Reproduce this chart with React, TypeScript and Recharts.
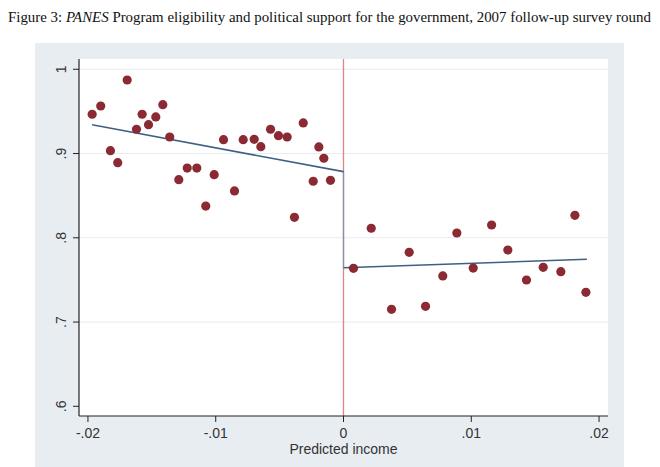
import React from 'react';
import {
  ComposedChart,
  Scatter,
  Line,
  XAxis,
  YAxis,
  CartesianGrid,
  ReferenceLine,
} from 'recharts';

// binned means, left of the cutoff (eligible)
const leftIncome = [
  -0.01967, -0.0190, -0.01824, -0.01767, -0.01693, -0.0162, -0.01576, -0.01526, -0.01469, -0.01414,
  -0.0136, -0.01289, -0.01223, -0.01148, -0.01078, -0.01012, -0.00939, -0.00853, -0.00785, -0.00699,
  -0.00647, -0.00571, -0.00509, -0.00441, -0.00384, -0.00315, -0.00237, -0.00193, -0.00154, -0.00102,
];
const leftSupport = [
  0.9466, 0.9564, 0.9034, 0.8891, 0.9873, 0.9288, 0.9466, 0.9342, 0.9434, 0.958,
  0.9196, 0.869, 0.8828, 0.8828, 0.8377, 0.8749, 0.9164, 0.8556, 0.9164, 0.9169,
  0.9081, 0.9288, 0.9212, 0.9196, 0.8243, 0.9363, 0.8671, 0.9078, 0.8944, 0.8682,
];

// right of the cutoff (ineligible)
const rightIncome = [
  0.00078, 0.00217, 0.00376, 0.00514, 0.00642, 0.00777, 0.00887, 0.01015,
  0.01159, 0.01286, 0.01432, 0.01563, 0.01701, 0.01811, 0.01897,
];
const rightSupport = [
  0.7638, 0.8113, 0.7151, 0.7828, 0.7187, 0.7547, 0.8057, 0.7641,
  0.8152, 0.7855, 0.7499, 0.765, 0.7598, 0.8267, 0.7353,
];

// fitted lines (endpoints)
const leftFitX = [-0.01967, 0];
const leftFitY = [0.9342, 0.8785];
const rightFitX = [0, 0.01905];
const rightFitY = [0.7645, 0.7745];

const xTicks = [-0.02, -0.01, 0, 0.01, 0.02];
const xTickLabels = ['-.02', '-.01', '0', '.01', '.02'];
const yTicks = [0.6, 0.7, 0.8, 0.9, 1];
const yTickLabels = ['.6', '.7', '.8', '.9', '1'];

const toPoints = (xs: number[], ys: number[]) => xs.map((x, i) => ({ x, y: ys[i] }));

const scatterData = [...toPoints(leftIncome, leftSupport), ...toPoints(rightIncome, rightSupport)];
const leftFit = toPoints(leftFitX, leftFitY);
const rightFit = toPoints(rightFitX, rightFitY);
const jump = [
  { x: 0, y: leftFitY[1] },
  { x: 0, y: rightFitY[0] },
];

const AXIS = '#222';
const FONT = '"Liberation Sans", Arial, sans-serif';

function XTick({ x, y, payload }: any) {
  const i = xTicks.findIndex((t) => Math.abs(t - payload.value) < 1e-9);
  return (
    <text x={x} y={y + 11} dy="0.35em" textAnchor="middle" fontSize={14} fill="#333" fontFamily={FONT}>
      {xTickLabels[i]}
    </text>
  );
}

function YTick({ x, y, payload }: any) {
  const i = yTicks.findIndex((t) => Math.abs(t - payload.value) < 1e-9);
  const cx = x - 11.5;
  return (
    <text
      x={cx}
      y={y}
      dy="0.35em"
      transform={`rotate(-90 ${cx} ${y})`}
      textAnchor="middle"
      fontSize={14}
      fill="#333"
      fontFamily={FONT}
    >
      {yTickLabels[i]}
    </text>
  );
}

function XLabel({ viewBox }: any) {
  const { x, y, width } = viewBox;
  return (
    <text x={x + width / 2} y={y + 33} dy="0.35em" textAnchor="middle" fontSize={14} fill="#333" fontFamily={FONT}>
      Predicted income
    </text>
  );
}

const Dot = (props: any) => <circle cx={props.cx} cy={props.cy} r={4.6} fill="#8b2a33" />;

export default function App() {
  return (
    <div style={{ position: 'absolute', left: 0, top: 0, width: 660, height: 467, background: '#fff' }}>
      <div
        style={{
          position: 'absolute',
          left: 8,
          top: 9,
          fontFamily: '"Liberation Serif", "Times New Roman", serif',
          fontSize: 14.9,
          color: '#111',
          whiteSpace: 'nowrap',
        }}
      >
        Figure 3: <i>PANES</i> Program eligibility and political support for the government, 2007 follow-up survey round
      </div>
      <div style={{ position: 'absolute', left: 35, top: 43, width: 589, height: 424, background: '#e8edf2' }}>
        <ComposedChart width={589} height={424} margin={{ top: 16, right: 16, bottom: 11, left: 14 }}>
          <CartesianGrid
            fill="#fff"
            vertical={false}
            stroke="#e6ecf1"
            horizontalValues={[0.7, 0.8, 0.9, 1]}
          />
          <XAxis
            type="number"
            dataKey="x"
            domain={[-0.0207, 0.0207]}
            ticks={xTicks}
            allowDataOverflow
            height={40}
            tickSize={6}
            tickMargin={0}
            axisLine={{ stroke: AXIS, strokeWidth: 1.2 }}
            tickLine={{ stroke: AXIS }}
            tick={<XTick />}
            label={<XLabel />}
          />
          <YAxis
            type="number"
            dataKey="y"
            domain={[0.5885, 1.0122]}
            ticks={yTicks}
            allowDataOverflow
            width={30}
            tickSize={6}
            tickMargin={0}
            axisLine={{ stroke: AXIS, strokeWidth: 1.2 }}
            tickLine={{ stroke: AXIS }}
            tick={<YTick />}
          />
          <ReferenceLine x={0} stroke="#e08585" strokeWidth={1.3} />
          <Line
            data={jump}
            dataKey="y"
            type="linear"
            stroke="#7f95ad"
            strokeWidth={1.3}
            dot={false}
            isAnimationActive={false}
          />
          <Line
            data={leftFit}
            dataKey="y"
            type="linear"
            stroke="#3f5f84"
            strokeWidth={1.6}
            dot={false}
            isAnimationActive={false}
          />
          <Line
            data={rightFit}
            dataKey="y"
            type="linear"
            stroke="#3f5f84"
            strokeWidth={1.6}
            dot={false}
            isAnimationActive={false}
          />
          <Scatter data={scatterData} dataKey="y" shape={Dot} isAnimationActive={false} />
        </ComposedChart>
      </div>
    </div>
  );
}
